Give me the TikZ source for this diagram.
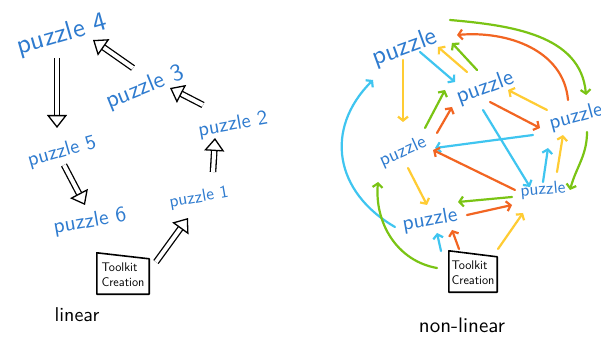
\documentclass[tikz,border=0pt]{standalone}
\usepackage{tikz}
\usepackage{xcolor}
\usetikzlibrary{arrows.meta}

\begin{document}
\begin{tikzpicture}[x=1pt,y=1pt,
  pz/.style={text=penBlue,font=\sffamily,inner sep=1pt},
  ink/.style={text=black,font=\sffamily,inner sep=1pt},
  tkbox/.style={ink,align=left,font=\sffamily\fontsize{12.5}{15}\selectfont,minimum height=38pt},
  tkline/.style={draw=black,line width=1.6pt,line join=round},
  hollow/.style={draw=black,double=white,double distance=4pt,line width=1.3pt,
    -{Triangle[open,length=13pt,width=20pt]}},
  pen/.style={line width=2.2pt,line cap=round,-{Straight Barb[length=4pt,width=10pt]}}]
\definecolor{penBlue}{RGB}{46,123,207}
\definecolor{penOrange}{RGB}{242,101,34}
\definecolor{penGreen}{RGB}{122,196,20}
\definecolor{penYellow}{RGB}{255,204,51}
\definecolor{penCyan}{RGB}{63,197,240}
\path[use as bounding box,fill=white] (0,0) rectangle (601,337);

% linear
\node[pz,rotate=16,scale=2.7] (p4) at (62,302) {puzzle 4};
\node[pz,rotate=22,scale=2.4] (p3) at (145,249) {puzzle 3};
\node[pz,rotate=10,scale=2.05] (p2) at (233,212) {puzzle 2};
\node[pz,rotate=10,scale=1.75] (p1) at (199,139) {puzzle 1};
\node[pz,rotate=16,scale=2.05] (p5) at (62,185) {puzzle 5};
\node[pz,rotate=10,scale=2.15] (p6) at (90,115) {puzzle 6};
\node[tkbox,minimum width=52pt,inner sep=2pt] (tk) at (123,62) {Toolkit\\Creation};
\draw[tkline] (tk.south west) -- (tk.south east) -- ([yshift=-3pt]tk.north east)
  -- ([yshift=3pt]tk.north west) -- cycle;
\node[ink,scale=2] (lin) at (77,22) {linear};

\draw[hollow] ([shift={(33,13)}]tk.center) -- ([shift={(-11,-20)}]p1.center);
\draw[hollow] ([shift={(14,26)}]p1.center) -- ([shift={(-18,-13)}]p2.center);
\draw[hollow] ([shift={(-30,20)}]p2.center) -- ([shift={(25,0)}]p3.center);
\draw[hollow] ([shift={(-12,20)}]p3.center) -- ([shift={(31,-5)}]p4.center);
\draw[hollow] ([shift={(-5,-23)}]p4.center) -- ([shift={(-5,24)}]p5.center);
\draw[hollow] ([shift={(2,-13)}]p5.center) -- ([shift={(-5,17)}]p6.center);

% non-linear
\node[pz,rotate=20,scale=2.6] (pA) at (405,289) {puzzle};
\node[pz,rotate=20,scale=2.3] (pB) at (485,249) {puzzle};
\node[pz,rotate=15,scale=2.1] (pC) at (576,220) {puzzle};
\node[pz,rotate=24,scale=1.9] (pD) at (403,185) {puzzle};
\node[pz,rotate=5,scale=1.75] (pE) at (543,147) {puzzle};
\node[pz,rotate=10,scale=2.15] (pF) at (430,117) {puzzle};
\node[tkbox,minimum width=48pt,inner sep=1pt] (tk2) at (473,64) {Toolkit\\Creation};
\draw[tkline] (tk2.south west) -- (tk2.south east) -- ([yshift=-3pt]tk2.north east)
  -- ([yshift=3pt]tk2.north west) -- cycle;
\node[ink,scale=2.1] (nlin) at (462,12) {non-linear};

\draw[pen,penGreen] ([shift={(45,28)}]pA.center) to[out=-5,in=95] ([shift={(10,22)}]pC.center);
\draw[pen,penOrange] ([shift={(-8,17)}]pC.center) to[out=95,in=5] ([shift={(52,13)}]pA.center);
\draw[pen,penYellow] ([shift={(-18,16)}]pB.center) -- ([shift={(33,1)}]pA.center);
\draw[pen,penGreen] ([shift={(-8,18)}]pB.center) -- ([shift={(47,5)}]pA.center);
\draw[pen,penCyan] ([shift={(15,-4)}]pA.center) -- ([shift={(-30,6)}]pB.center);
\draw[pen,penYellow] ([shift={(-2,-12)}]pA.center) -- ([shift={(0,30)}]pD.center);
\draw[pen,penGreen] ([shift={(22,24)}]pD.center) -- ([shift={(-40,-2)}]pB.center);
\draw[pen,penOrange] ([shift={(34,19)}]pD.center) -- ([shift={(-33,-19)}]pB.center);
\draw[pen,penOrange] ([shift={(5,-14)}]pB.center) -- ([shift={(-36,-11)}]pC.center);
\draw[pen,penYellow] ([shift={(-29,7)}]pC.center) -- ([shift={(23,-2)}]pB.center);
\draw[pen,penCyan] ([shift={(-2,-22)}]pB.center) -- ([shift={(-13,3)}]pE.center);
\draw[pen,penCyan] ([shift={(-43,-18)}]pC.center) -- ([shift={(32,4)}]pD.center);
\draw[pen,penOrange] ([shift={(-28,0)}]pE.center) -- ([shift={(30,2)}]pD.center);
\draw[pen,penCyan] ([shift={(0,8)}]pE.center) -- ([shift={(-28,-31)}]pC.center);
\draw[pen,penYellow] ([shift={(14,18)}]pE.center) -- ([shift={(-13,-18)}]pC.center);
\draw[pen,penGreen] ([shift={(11,-15)}]pC.center) to[out=-90,in=75] ([shift={(27,0)}]pE.center);
\draw[pen,penGreen] ([shift={(-31,-7)}]pE.center) -- ([shift={(28,18)}]pF.center);
\draw[pen,penOrange] ([shift={(37,5)}]pF.center) -- ([shift={(-31,-15)}]pE.center);
\draw[pen,penYellow] ([shift={(5,-16)}]pD.center) -- ([shift={(-3,15)}]pF.center);
\draw[pen,penCyan] ([shift={(-35,-7)}]pF.center) to[out=150,in=225,looseness=1.2] ([shift={(-32,-32)}]pA.center);
\draw[pen,penGreen] ([shift={(-36,5)}]tk2.center) to[out=170,in=265] ([shift={(-25,-30)}]pD.center);
\draw[pen,penCyan] ([shift={(-32,22)}]tk2.center) -- ([shift={(7,-13)}]pF.center);
\draw[pen,penOrange] ([shift={(-14,24)}]tk2.center) -- ([shift={(22,-10)}]pF.center);
\draw[pen,penYellow] ([shift={(25,24)}]tk2.center) -- ([shift={(-20,-23)}]pE.center);
\end{tikzpicture}
\end{document}
